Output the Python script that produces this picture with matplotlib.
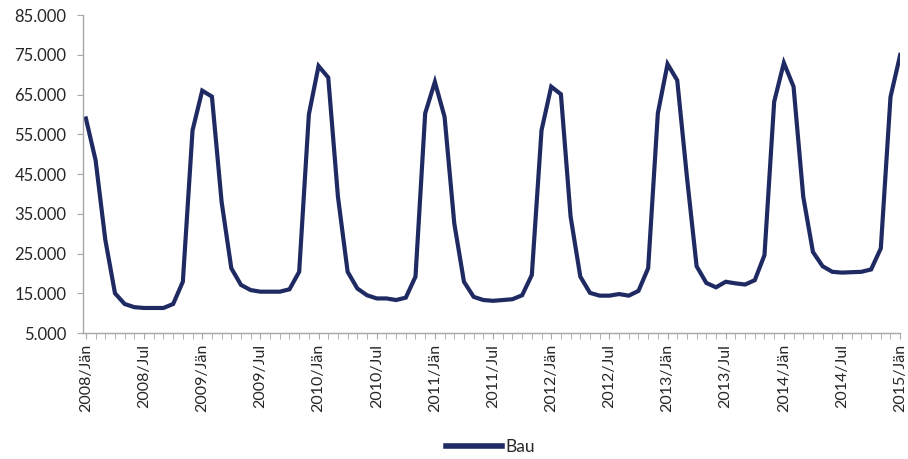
import matplotlib
matplotlib.use("Agg")
import matplotlib.pyplot as plt
from matplotlib.ticker import FuncFormatter, MultipleLocator

plt.rcParams['font.family'] = ['Lato', 'DejaVu Sans']

# Monthly series, January 2008 to January 2015
series_name = "Bau"
bau = [
    59000, 48500, 28500, 15000, 12300, 11500, 11300, 11300, 11300, 12300, 17900, 56000,
    66000, 64500, 38000, 21300, 17100, 15800, 15400, 15400, 15400, 16000, 20400, 60000,
    72200, 69300, 39300, 20400, 16200, 14500, 13700, 13700, 13300, 13900, 19200, 60300,
    68200, 59400, 32600, 17900, 14100, 13300, 13100, 13300, 13500, 14500, 19600, 56000,
    67000, 65100, 34300, 19200, 15100, 14400, 14400, 14800, 14400, 15600, 21300, 60300,
    72700, 68600, 44300, 21800, 17600, 16500, 17900, 17500, 17200, 18300, 24600, 63200,
    73000, 67000, 39300, 25400, 21800, 20400, 20200, 20300, 20400, 21000, 26300, 64400,
    75000,
]
years = list(range(2008, 2016))
month_names = ["Jän", "Jul"]
y_ticks = list(range(5000, 85001, 10000))

# Tick labels every six months
tick_pos = list(range(0, len(bau), 6))
tick_labels = [f"{years[p // 12]}/{month_names[(p % 12) // 6]}" for p in tick_pos]

fig = plt.figure(figsize=(9.08, 4.59), dpi=100)
ax = fig.add_axes([0.0914, 0.2745, 0.9000, 0.6925])

ax.plot(range(len(bau)), bau, color="#1f2a63", lw=3.0, solid_joinstyle="miter",
        label=series_name)

ax.set_xlim(-0.3, len(bau) - 1)
ax.set_ylim(5000, 85000)
ax.set_yticks(y_ticks)
ax.yaxis.set_major_formatter(FuncFormatter(lambda v, _: f"{int(v):,}".replace(",", ".")))

ax.set_xticks(tick_pos)
ax.set_xticklabels(tick_labels, rotation=90, fontsize=11.5, color="#262626")
ax.xaxis.set_minor_locator(MultipleLocator(1))

for s in ("top", "right"):
    ax.spines[s].set_visible(False)
for s in ("left", "bottom"):
    ax.spines[s].set_color("#a6a6a6")
    ax.spines[s].set_linewidth(1.0)

ax.tick_params(axis="y", colors="#a6a6a6", length=4, labelsize=12, labelcolor="#262626",
               pad=8)
ax.tick_params(axis="x", which="both", colors="#a6a6a6", length=4, labelcolor="#262626",
               pad=4)

leg = fig.legend(loc="center", bbox_to_anchor=(0.54, 0.026), frameon=False,
                 fontsize=12.5, handlelength=3.2, handletextpad=0.2)
for line in leg.get_lines():
    line.set_linewidth(4)
for t in leg.get_texts():
    t.set_color("#262626")

fig.savefig("out.png", dpi=100)
